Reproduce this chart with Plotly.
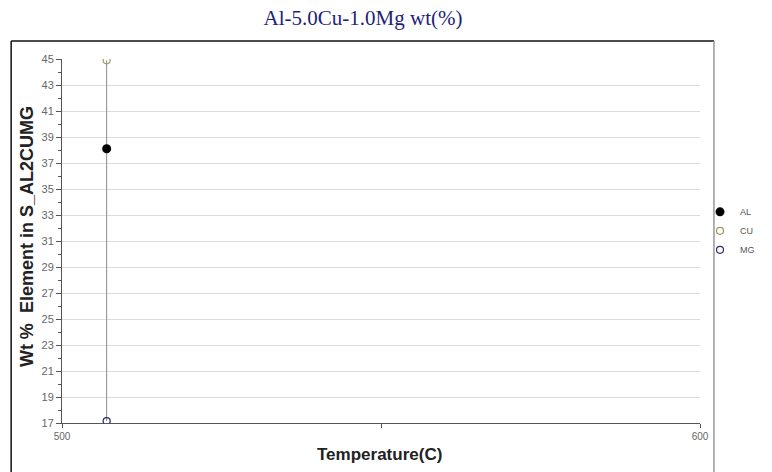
import plotly.graph_objects as go

# Composition of the S phase (Al2CuMg) in Al-5.0Cu-1.0Mg
temperature = [507]
elements = ["AL", "CU", "MG"]
wt_pct = {"AL": [38.1], "CU": [44.9], "MG": [17.15]}

marker_styles = {
    "AL": dict(symbol="circle", size=9, color="black"),
    "CU": dict(symbol="circle-open", size=7, color="#9c9a5a", line=dict(width=1.2)),
    "MG": dict(symbol="circle-open", size=7, color="#2b2b6b", line=dict(width=1.2)),
}

y_major = list(range(17, 46, 2))
x_ticks = [500, 550, 600]
x_ticktext = ["500", "", "600"]

fig = go.Figure()

# vertical connector spanning the composition range at this temperature
fig.add_trace(go.Scatter(
    x=temperature * 2,
    y=[min(wt_pct["MG"]), max(wt_pct["CU"])],
    mode="lines", line=dict(color="#8a8a8a", width=1),
    showlegend=False, hoverinfo="skip",
))

for el in elements:
    fig.add_trace(go.Scatter(
        x=temperature, y=wt_pct[el], mode="markers", name=el,
        marker=marker_styles[el],
    ))

fig.update_layout(
    width=772, height=472,
    margin=dict(l=62, r=70, t=59, b=49),
    paper_bgcolor="white", plot_bgcolor="white",
    title=dict(
        text="Al-5.0Cu-1.0Mg wt(%)",
        font=dict(family="Liberation Serif", size=21, color="#1f1f78"),
        x=(363 - 0) / 772, xanchor="center", y=1 - 18 / 472, yanchor="middle",
        xref="container", yref="container",
    ),
    xaxis=dict(
        range=[500, 600], tickvals=x_ticks, ticktext=x_ticktext,
        showgrid=False, zeroline=False,
        showline=True, linecolor="#555555", linewidth=1,
        ticks="outside", ticklen=4, tickcolor="#555555",
        tickfont=dict(family="Liberation Sans", size=10, color="#666666"),
    ),
    yaxis=dict(
        range=[17, 45], tickvals=y_major,
        showgrid=True, gridcolor="#dcdcdc", gridwidth=1, zeroline=False,
        showline=True, linecolor="#555555", linewidth=1,
        ticks="outside", ticklen=5, tickcolor="#555555",
        tickfont=dict(family="Liberation Sans", size=11, color="#666666"),
        minor=dict(dtick=1, tick0=17, ticks="outside", ticklen=3, tickcolor="#555555", showgrid=False),
    ),
    legend=dict(
        x=1.0, xanchor="left", y=0.62, yanchor="top",
        font=dict(family="Liberation Sans", size=9, color="#555555"),
        itemwidth=30, tracegroupgap=0, bgcolor="rgba(0,0,0,0)",
    ),
    annotations=[
        dict(text="<b>Wt %  Element in S_AL2CUMG</b>", xref="paper", yref="paper",
             x=(27 - 62) / 640, y=(423 - 237) / 364, textangle=-90, showarrow=False,
             font=dict(family="Liberation Sans", size=18, color="#222222"),
             xanchor="center", yanchor="middle"),
        dict(text="<b>Temperature(C)</b>", xref="paper", yref="paper",
             x=(380 - 62) / 640, y=(423 - 455) / 364, showarrow=False,
             font=dict(family="Liberation Sans", size=17, color="#222222"),
             xanchor="center", yanchor="middle"),
    ],
    shapes=[
        # outer frame around the plotting region
        dict(type="line", xref="paper", yref="paper",
             x0=(11 - 62) / 640, x1=(11 - 62) / 640, y0=(423 - 41) / 364, y1=(423 - 480) / 364,
             line=dict(color="#111111", width=1.5)),
        dict(type="line", xref="paper", yref="paper",
             x0=(11 - 62) / 640, x1=(716 - 62) / 640, y0=(423 - 41) / 364, y1=(423 - 41) / 364,
             line=dict(color="#111111", width=1.5)),
        dict(type="line", xref="paper", yref="paper",
             x0=(716 - 62) / 640, x1=(716 - 62) / 640, y0=(423 - 41) / 364, y1=(423 - 480) / 364,
             line=dict(color="#999999", width=1.5)),
    ],
)

fig.write_html("out.html")
